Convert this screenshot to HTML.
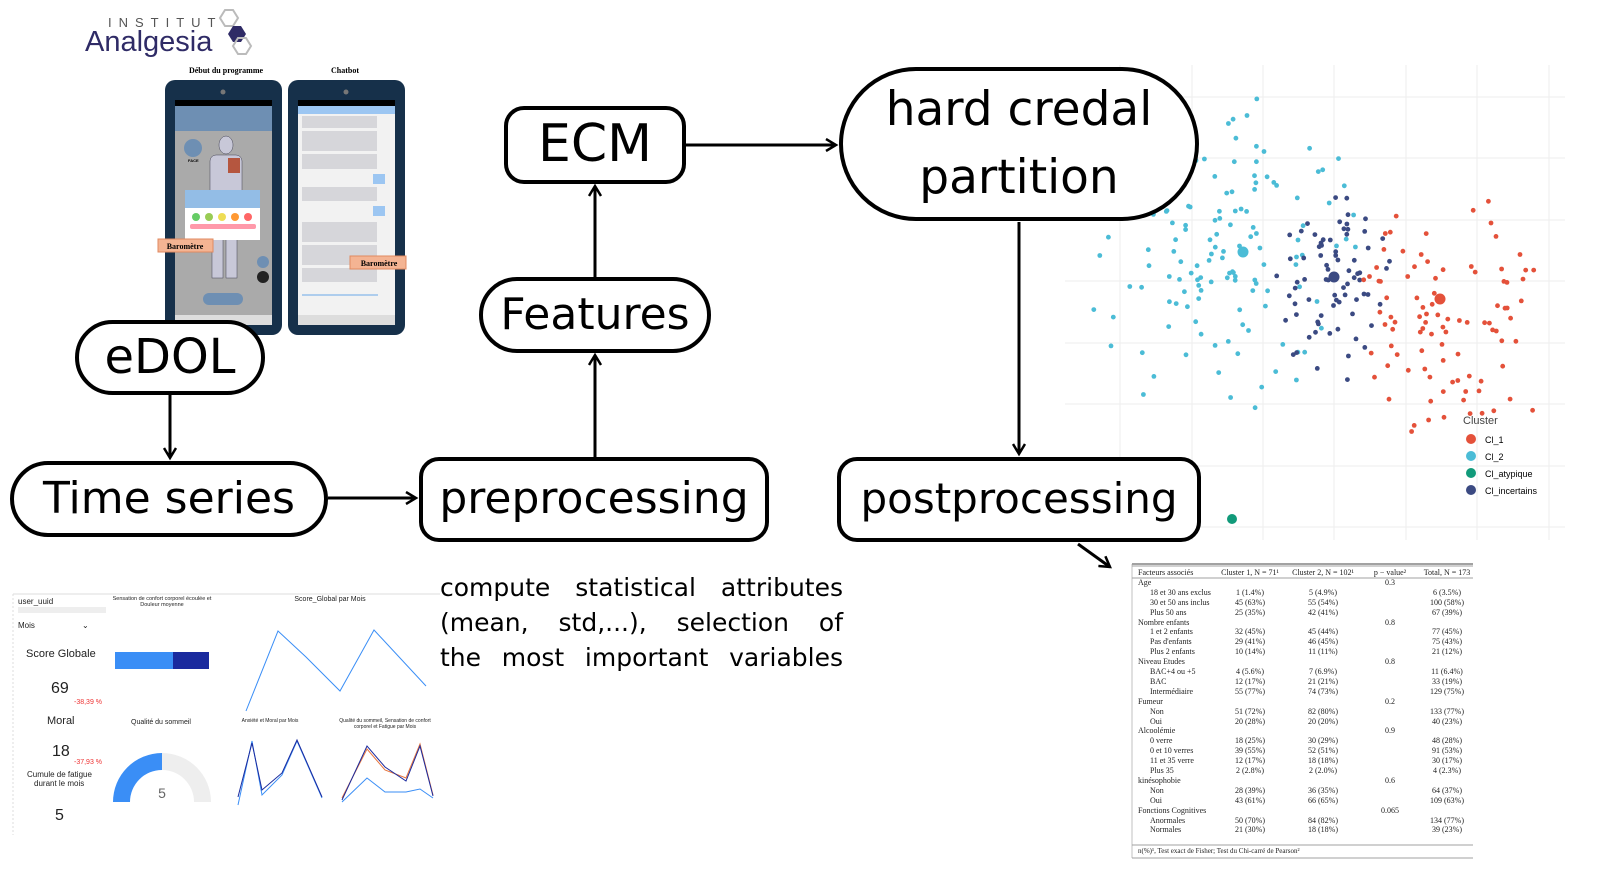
<!DOCTYPE html>
<html><head><meta charset="utf-8"><style>
body{margin:0;width:1608px;height:888px;background:#fff;position:relative;overflow:hidden;font-family:"DejaVu Sans","Liberation Sans",sans-serif}
.b{position:absolute;border:4px solid #000;background:#fff;box-sizing:border-box;display:flex;align-items:center;justify-content:center;text-align:center;color:#000;line-height:1.15;white-space:nowrap}
.t{position:absolute;font-family:"Liberation Serif",serif;font-size:9px;color:#222}
.pl{position:absolute;left:440px;width:403px;font-family:'DejaVu Sans',sans-serif;font-size:25px;text-align:justify;text-align-last:justify;white-space:nowrap}
</style></head><body>
<svg width="1608" height="888" style="position:absolute;left:0;top:0">
<defs><marker id="ah" markerWidth="14" markerHeight="14" refX="11" refY="7" orient="auto" markerUnits="userSpaceOnUse"><path d="M1,1 L11,7 L1,13" fill="none" stroke="#000" stroke-width="2.5"/></marker></defs>
<text x="108" y="27" font-family="Liberation Sans" font-size="13" letter-spacing="7" fill="#555">INSTITUT</text>
<text x="85" y="51" font-family="Liberation Sans" font-size="29" fill="#2f2b66">Analgesia</text>
<polygon points="225,10 233,10 238,18 233,26 225,26 220,18" fill="none" stroke="#bbb" stroke-width="2"/>
<polygon points="233,26 241,26 246,34 241,42 233,42 228,34" fill="#2f2b66"/>
<polygon points="238,38 246,38 251,46 246,54 238,54 233,46" fill="none" stroke="#bbb" stroke-width="2"/>
<text x="226" y="73" font-family="Liberation Serif" font-weight="bold" font-size="8" text-anchor="middle">Début du programme</text>
<text x="345" y="73" font-family="Liberation Serif" font-weight="bold" font-size="8" text-anchor="middle">Chatbot</text>
<rect x="165" y="80" width="117" height="255" rx="10" fill="#16304a"/>
<rect x="288" y="80" width="117" height="255" rx="10" fill="#16304a"/>
<circle cx="223" cy="92" r="2.5" fill="#777"/><circle cx="346" cy="92" r="2.5" fill="#777"/>
<rect x="175" y="100" width="97" height="225" fill="#aaa"/>
<rect x="175" y="100" width="97" height="6" fill="#000"/>
<rect x="175" y="106" width="97" height="25" fill="#6e8fb3"/>
<circle cx="193" cy="148" r="9" fill="#6e8fb3"/>
<text x="188" y="162" font-size="4" font-family="Liberation Sans" font-weight="bold">FACE</text>
<ellipse cx="226" cy="145" rx="7" ry="9" fill="#c8c8d8" stroke="#445" stroke-width="0.5"/>
<rect x="210" y="155" width="32" height="45" rx="6" fill="#c8c8d8" stroke="#445" stroke-width="0.5"/>
<rect x="228" y="158" width="12" height="15" fill="#b5563f"/>
<rect x="212" y="230" width="11" height="48" fill="#c8c8d8" stroke="#445" stroke-width="0.5"/>
<rect x="226" y="230" width="11" height="48" fill="#c8c8d8" stroke="#445" stroke-width="0.5"/>
<rect x="185" y="190" width="75" height="18" fill="#93bde6"/>
<rect x="185" y="208" width="75" height="32" fill="#fff"/>
<circle cx="196" cy="217" r="4" fill="#6c6"/><circle cx="209" cy="217" r="4" fill="#9c5"/><circle cx="222" cy="217" r="4" fill="#ed5"/><circle cx="235" cy="217" r="4" fill="#f93"/><circle cx="248" cy="217" r="4" fill="#f66"/>
<rect x="190" y="224" width="66" height="5" rx="2" fill="#f9a"/>
<rect x="158" y="239" width="55" height="13" fill="#f4b493" stroke="#e08a60"/>
<text x="185" y="249" font-family="Liberation Serif" font-weight="bold" font-size="8" text-anchor="middle">Baromètre</text>
<circle cx="263" cy="262" r="6" fill="#6e8fb3"/><circle cx="263" cy="277" r="6" fill="#222"/>
<rect x="203" y="293" width="40" height="12" rx="6" fill="#6e8fb3"/>
<rect x="175" y="315" width="97" height="10" fill="#ddd"/>
<rect x="298" y="100" width="97" height="225" fill="#f2f2f2"/>
<rect x="298" y="100" width="97" height="6" fill="#000"/>
<rect x="298" y="106" width="97" height="8" fill="#9cc6f2"/>
<g fill="#d6d6da"><rect x="302" y="116" width="75" height="12"/><rect x="302" y="131" width="75" height="20"/><rect x="302" y="154" width="75" height="15"/><rect x="373" y="174" width="12" height="10" fill="#9cc6f2"/><rect x="302" y="187" width="75" height="14"/><rect x="373" y="206" width="12" height="10" fill="#9cc6f2"/><rect x="302" y="222" width="75" height="20"/><rect x="302" y="245" width="75" height="20"/><rect x="302" y="268" width="75" height="14"/></g>
<rect x="350" y="256" width="56" height="13" fill="#f4b493" stroke="#e08a60"/>
<text x="379" y="266" font-family="Liberation Serif" font-weight="bold" font-size="8" text-anchor="middle">Baromètre</text>
<line x1="302" y1="295" x2="378" y2="295" stroke="#6aa8e8"/>
<rect x="298" y="315" width="97" height="10" fill="#ddd"/>
<g stroke="#000" stroke-width="3" fill="none" marker-end="url(#ah)">
<line x1="170" y1="395" x2="170" y2="458"/>
<line x1="328" y1="498" x2="416" y2="498"/>
<line x1="595" y1="457" x2="595" y2="355"/>
<line x1="595" y1="278" x2="595" y2="186"/>
<line x1="685" y1="145" x2="836" y2="145"/>
<line x1="1019" y1="222" x2="1019" y2="454"/>
<line x1="1078" y1="544" x2="1110" y2="567"/>
</g>
<g stroke="#eee" stroke-width="1">
<line x1="1120" y1="65" x2="1120" y2="540"/><line x1="1192" y1="65" x2="1192" y2="540"/><line x1="1263" y1="65" x2="1263" y2="540"/><line x1="1334" y1="65" x2="1334" y2="540"/><line x1="1406" y1="65" x2="1406" y2="540"/><line x1="1477" y1="65" x2="1477" y2="540"/><line x1="1549" y1="65" x2="1549" y2="540"/>
<line x1="1065" y1="97" x2="1565" y2="97"/><line x1="1065" y1="158" x2="1565" y2="158"/><line x1="1065" y1="220" x2="1565" y2="220"/><line x1="1065" y1="281" x2="1565" y2="281"/><line x1="1065" y1="343" x2="1565" y2="343"/><line x1="1065" y1="404" x2="1565" y2="404"/><line x1="1065" y1="466" x2="1565" y2="466"/><line x1="1065" y1="527" x2="1565" y2="527"/>
</g>
<g id="pts"></g>
<circle cx="1243" cy="252" r="5.5" fill="#4bbcd6"/><circle cx="1334" cy="277" r="5.5" fill="#3b4a82"/><circle cx="1440" cy="299" r="5.5" fill="#e4513a"/><circle cx="1232" cy="519" r="5" fill="#119a7a"/>
<text x="1463" y="424" font-family="Liberation Sans" font-size="11" fill="#444">Cluster</text>
<circle cx="1471" cy="439" r="5" fill="#e4513a"/><text x="1485" y="443" font-family="Liberation Sans" font-size="9">Cl_1</text>
<circle cx="1471" cy="456" r="5" fill="#4bbcd6"/><text x="1485" y="460" font-family="Liberation Sans" font-size="9">Cl_2</text>
<circle cx="1471" cy="473" r="5" fill="#119a7a"/><text x="1485" y="477" font-family="Liberation Sans" font-size="9">Cl_atypique</text>
<circle cx="1471" cy="490" r="5" fill="#3b4a82"/><text x="1485" y="494" font-family="Liberation Sans" font-size="9">Cl_incertains</text>
<g font-family="Liberation Sans" fill="#222">
<line x1="13" y1="594" x2="440" y2="594" stroke="#ddd"/><line x1="13" y1="594" x2="13" y2="835" stroke="#ddd" stroke-dasharray="2,2"/>
<text x="18" y="604" font-size="8">user_uuid</text>
<rect x="18" y="607" width="88" height="6" fill="#eee"/>
<text x="18" y="628" font-size="8">Mois</text><text x="82" y="628" font-size="8">⌄</text>
<text x="26" y="657" font-size="11">Score Globale</text>
<text x="51" y="693" font-size="16">69</text>
<text x="74" y="704" font-size="7" fill="#e33">-38,39 %</text>
<text x="47" y="724" font-size="11">Moral</text>
<text x="52" y="756" font-size="16">18</text>
<text x="74" y="764" font-size="7" fill="#e33">-37,93 %</text>
<text x="27" y="777" font-size="8">Cumule de fatigue</text><text x="34" y="786" font-size="8">durant le mois</text>
<text x="55" y="820" font-size="16">5</text>
<text x="162" y="600" font-size="5.5" text-anchor="middle">Sensation de confort corporel écoulée et</text>
<text x="162" y="606" font-size="5.5" text-anchor="middle">Douleur moyenne</text>
<rect x="115" y="652" width="58" height="17" fill="#3a8ef6"/><rect x="173" y="652" width="36" height="17" fill="#1a2a9e"/>
<text x="330" y="601" font-size="7" text-anchor="middle">Score_Global par Mois</text>
<polyline points="246,711 278,631 306,657 340,691 374,630 426,686" fill="none" stroke="#3a8ef6" stroke-width="1"/>
<text x="161" y="724" font-size="7" text-anchor="middle">Qualité du sommeil</text>
<path d="M113,802 A49,49 0 0 1 162,753 L162,770 A32,32 0 0 0 130,802 Z" fill="#3a8ef6"/>
<path d="M162,753 A49,49 0 0 1 211,802 L194,802 A32,32 0 0 0 162,770 Z" fill="#eee"/>
<text x="162" y="798" font-size="14" text-anchor="middle" fill="#666">5</text>
<text x="270" y="722" font-size="5" text-anchor="middle">Anxiété et Moral par Mois</text>
<polyline points="238,805 252,741 262,795 282,775 297,741 322,798" fill="none" stroke="#3a8ef6"/>
<polyline points="238,797 252,743 262,790 282,773 297,740 322,797" fill="none" stroke="#1a2a9e"/>
<text x="385" y="722" font-size="5" text-anchor="middle">Qualité du sommeil, Sensation de confort</text>
<text x="385" y="728" font-size="5" text-anchor="middle">corporel et Fatigue par Mois</text>
<polyline points="342,802 367,778 385,792 406,792 420,789 433,798" fill="none" stroke="#3a8ef6"/>
<polyline points="342,798 367,749 385,770 406,778 420,744 433,795" fill="none" stroke="#e8743b"/>
<polyline points="342,800 367,746 385,767 406,781 420,746 433,796" fill="none" stroke="#1a2a9e"/>
</g>
<line x1="1132" y1="564" x2="1473" y2="564" stroke="#444" stroke-width="1"/><line x1="1132" y1="566" x2="1473" y2="566" stroke="#444" stroke-width="0.6"/>
<line x1="1132" y1="578" x2="1473" y2="578" stroke="#444" stroke-width="0.6"/>
<line x1="1132" y1="845" x2="1473" y2="845" stroke="#444" stroke-width="0.6"/>
<line x1="1132" y1="858" x2="1473" y2="858" stroke="#444" stroke-width="0.6"/>
<line x1="1132" y1="564" x2="1132" y2="858" stroke="#999" stroke-width="0.6"/>
</svg>
<div id="tbl"></div>

<div class="b" style="left:75px;top:320px;width:190px;height:75px;border-radius:38px;font-size:48px">eDOL</div>
<div class="b" style="left:10px;top:461px;width:318px;height:76px;border-radius:38px;font-size:44px">Time series</div>
<div class="b" style="left:419px;top:457px;width:350px;height:85px;border-radius:20px;font-size:44px">preprocessing</div>
<div class="b" style="left:479px;top:277px;width:232px;height:76px;border-radius:38px;font-size:44px">Features</div>
<div class="b" style="left:504px;top:106px;width:182px;height:78px;border-radius:20px;font-size:52px">ECM</div>
<div class="b" style="left:839px;top:67px;width:360px;height:154px;border-radius:77px;font-size:47px;line-height:68px">hard credal<br>partition</div>
<div class="b" style="left:837px;top:457px;width:364px;height:85px;border-radius:20px;font-size:42px">postprocessing</div>
<div class="pl" style="top:573px">compute statistical attributes</div>
<div class="pl" style="top:608px">(mean, std,...), selection of</div>
<div class="pl" style="top:643px">the most important variables</div>
<script>
var r=[["Facteurs associés","Cluster 1, N = 71¹","Cluster 2, N = 102¹","p − value²","Total, N = 173"],["Age","","","0.3",""],["  18 et 30 ans exclus","1 (1.4%)","5 (4.9%)","","6 (3.5%)"],["  30 et 50 ans inclus","45 (63%)","55 (54%)","","100 (58%)"],["  Plus 50 ans","25 (35%)","42 (41%)","","67 (39%)"],["Nombre enfants","","","0.8",""],["  1 et 2 enfants","32 (45%)","45 (44%)","","77 (45%)"],["  Pas d'enfants","29 (41%)","46 (45%)","","75 (43%)"],["  Plus 2 enfants","10 (14%)","11 (11%)","","21 (12%)"],["Niveau Etudes","","","0.8",""],["  BAC+4 ou +5","4 (5.6%)","7 (6.9%)","","11 (6.4%)"],["  BAC","12 (17%)","21 (21%)","","33 (19%)"],["  Intermédiaire","55 (77%)","74 (73%)","","129 (75%)"],["Fumeur","","","0.2",""],["  Non","51 (72%)","82 (80%)","","133 (77%)"],["  Oui","20 (28%)","20 (20%)","","40 (23%)"],["Alcoolémie","","","0.9",""],["  0 verre","18 (25%)","30 (29%)","","48 (28%)"],["  0 et 10 verres","39 (55%)","52 (51%)","","91 (53%)"],["  11 et 35 verre","12 (17%)","18 (18%)","","30 (17%)"],["  Plus 35","2 (2.8%)","2 (2.0%)","","4 (2.3%)"],["kinésophobie","","","0.6",""],["  Non","28 (39%)","36 (35%)","","64 (37%)"],["  Oui","43 (61%)","66 (65%)","","109 (63%)"],["Fonctions Cognitives","","","0.065",""],["  Anormales","50 (70%)","84 (82%)","","134 (77%)"],["  Normales","21 (30%)","18 (18%)","","39 (23%)"]];
var cx=[1138,1250,1323,1390,1447],h="";
r.forEach(function(row,i){var y=568+i*9.9;row.forEach(function(c,j){if(!c)return;var ind=c.indexOf("  ")==0;var x=j==0?(ind?1150:1138):cx[j];var al=j==0?"":"transform:translateX(-50%);";h+='<div class="t" style="left:'+x+'px;top:'+y+'px;'+al+'white-space:nowrap;font-size:8px">'+c.trim()+'</div>';});});
h+='<div class="t" style="left:1138px;top:847px;font-size:7px;white-space:nowrap">n(%)¹, Test exact de Fisher; Test du Chi-carré de Pearson²</div>';
document.getElementById("tbl").innerHTML=h;
var s=12345;function rnd(){s=(s*16807)%2147483647;return s/2147483647;}
function g(){return (rnd()+rnd()-1);}
var p="";
function cl(n,x,y,sx,sy,c){for(var i=0;i<n;i++){var px=x+g()*sx,py=y+g()*sy;if(px<1055||px>1560||py<75||py>450)continue;p+='<circle cx="'+px.toFixed(1)+'" cy="'+py.toFixed(1)+'" r="2.4" fill="'+c+'"/>';}}
cl(140,1225,250,140,170,"#4bbcd6");cl(75,1330,285,70,110,"#3b4a82");cl(95,1445,310,100,130,"#e4513a");
document.getElementById("pts").innerHTML=p;
</script>
</body></html>
